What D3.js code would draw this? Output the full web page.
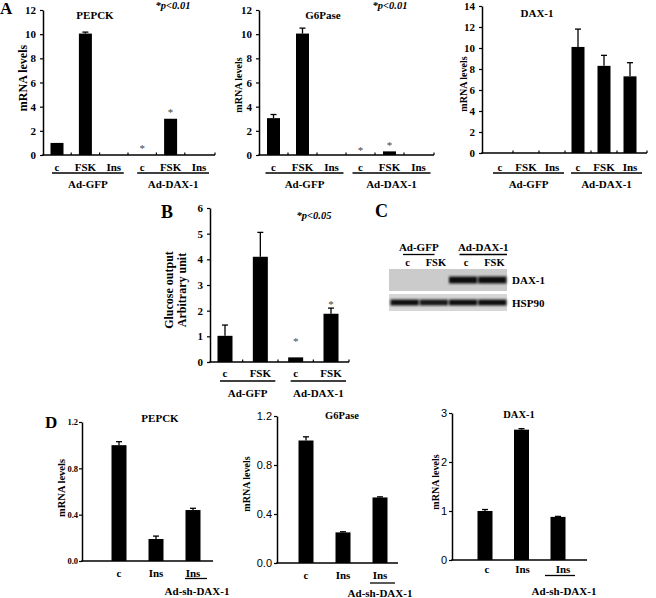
<!DOCTYPE html>
<html><head><meta charset="utf-8">
<script src="https://cdn.jsdelivr.net/npm/d3@7/dist/d3.min.js"></script>
<style>body{margin:0;background:#fff}svg{display:block}</style>
</head><body><svg id="c" width="656" height="598"></svg>
<script>
// ---------- DATA ----------
// Panel A
const aCats = ["c", "FSK", "Ins", "c", "FSK", "Ins"];
const aGroups = ["Ad-GFP", "Ad-DAX-1"];
const aGroupIdx = [[0, 1, 2], [3, 4, 5]];
const pepckA = [1.0, 10.05, 0, 0, 3.0, 0];
const pepckAErr = [0, 0.12, 0, 0, 0, 0];
const pepckAStar = [null, null, null, 0.9, 3.9, null];
const g6paseA = [3.05, 10.05, 0, 0, 0.3, 0];
const g6paseAErr = [0.3, 0.45, 0, 0, 0, 0];
const g6paseAStar = [null, null, null, 0.75, 1.15, null];
const daxA = [0, 0, 0, 10.1, 8.3, 7.3];
const daxAErr = [0, 0, 0, 1.7, 1.0, 1.3];
const aTicks12 = [0, 2, 4, 6, 8, 10, 12];
const aTicks14 = [0, 2, 4, 6, 8, 10, 12, 14];
// Panel B
const bCats = ["c", "FSK", "c", "FSK"];
const bGroups = ["Ad-GFP", "Ad-DAX-1"];
const bGroupIdx = [[0, 1], [2, 3]];
const glucoseB = [1.02, 4.1, 0.18, 1.88];
const glucoseBErr = [0.42, 0.95, 0, 0.22];
const glucoseBStar = [null, null, 0.97, 2.41];
const bTicks = [0, 1, 2, 3, 4, 5, 6];
// Panel C (western blot)
const cLanes = ["c", "FSK", "c", "FSK"];
const cGroups = ["Ad-GFP", "Ad-DAX-1"];
const cRows = ["DAX-1", "HSP90"];
const cDax1Band = [0, 0, 1, 1];
const cHsp90Band = [1, 0.95, 1, 1];
// Panel D
const dCats = ["c", "Ins", "Ins"];
const dGroup = "Ad-sh-DAX-1";
const pepckD = [1.0, 0.19, 0.44];
const pepckDErr = [0.03, 0.025, 0.015];
const g6paseD = [1.0, 0.25, 0.535];
const g6paseDErr = [0.03, 0.005, 0.005];
const daxD = [1.0, 2.66, 0.88];
const daxDErr = [0.03, 0.02, 0.01];
const dTicks12 = [0, 0.4, 0.8, 1.2];
const dTicks3 = [0, 1, 2, 3];

// ---------- DRAWING ----------
const SERIF = "'Liberation Serif','Times New Roman',serif";
const SANS = "'Liberation Sans',Arial,sans-serif";
const svg = d3.select("#c");

function txt(s, x, y, opt = {}) {
  const t = svg.append("text").attr("x", x).attr("y", y).text(s)
    .attr("font-family", opt.family || SERIF)
    .attr("font-size", opt.size || 11)
    .attr("font-weight", opt.weight || "bold")
    .attr("font-style", opt.style || "normal")
    .attr("text-anchor", opt.anchor || "middle")
    .attr("fill", opt.fill || "#000");
  return t;
}
function vtxt(s, x, y, size) {
  svg.append("text").attr("transform", `translate(${x},${y}) rotate(-90)`)
    .attr("text-anchor", "middle").attr("dy", "0.35em")
    .attr("font-family", SERIF).attr("font-weight", "bold").attr("font-size", size)
    .text(s);
}

function barChart(c) {
  const x = d3.scalePoint().domain(d3.range(c.cats.length)).range(c.pts);
  const y = d3.scaleLinear().domain([0, c.max]).range([c.y0, c.yTop]);
  const g = svg.append("g");
  // bars
  g.selectAll("rect.bar").data(c.vals).join("rect")
    .attr("x", (d, i) => x(i) - c.barW / 2).attr("y", d => y(d))
    .attr("width", c.barW).attr("height", d => c.y0 - y(d)).attr("fill", "#000");
  // error bars
  c.vals.forEach((v, i) => {
    const e = c.errs ? c.errs[i] : 0;
    if (!e) return;
    g.append("line").attr("x1", x(i)).attr("x2", x(i)).attr("y1", y(v)).attr("y2", y(v + e))
      .attr("stroke", "#000").attr("stroke-width", 1.3);
    g.append("line").attr("x1", x(i) - 3).attr("x2", x(i) + 3).attr("y1", y(v + e)).attr("y2", y(v + e))
      .attr("stroke", "#000").attr("stroke-width", 1.3);
  });
  // stars
  if (c.stars) c.stars.forEach((s, i) => {
    if (s == null) return;
    g.append("text").attr("x", x(i)).attr("y", y(s)).attr("dy", "0.7em")
      .attr("text-anchor", "middle").attr("font-family", SERIF).attr("font-size", 11)
      .attr("fill", "#444").text("*");
  });
  // y axis
  const ax = g.append("g").attr("transform", `translate(${c.axisX},0)`)
    .call(d3.axisLeft(y).tickValues(c.ticks).tickFormat(c.fmt || (d => d))
      .tickSize(3).tickSizeOuter(0).tickPadding(c.pad != null ? c.pad : 4));
  ax.select(".domain").attr("stroke", "#000").attr("stroke-width", 1.5);
  ax.selectAll(".tick line").attr("stroke", "#000").attr("stroke-width", 1.2);
  ax.selectAll(".tick text").attr("font-family", c.tickFamily || SERIF)
    .attr("font-weight", c.tickWeight || "bold").attr("font-size", c.tickFont || 11).attr("fill", "#000");
  // x axis
  g.append("line").attr("x1", c.axisX - 0.75).attr("x2", c.axisEnd).attr("y1", c.y0).attr("y2", c.y0)
    .attr("stroke", "#000").attr("stroke-width", 1.5);
  if (c.xTicks) {
    const st = x.step();
    const bounds = d3.range(c.cats.length - 1).map(i => x(i) + st / 2);
    bounds.push(c.axisEnd);
    bounds.forEach(b => g.append("line").attr("x1", b).attr("x2", b).attr("y1", c.y0).attr("y2", c.y0 - 2.5)
      .attr("stroke", "#000").attr("stroke-width", 1.2));
  }
  // category labels
  c.cats.forEach((s, i) => txt(s, x(i) + (c.catDx ? c.catDx[i] : 0), c.catY, { size: c.catSize || 11 }));
  // groups
  if (c.groups) c.groups.forEach((gname, k) => {
    const idx = c.groupIdx[k];
    const xa = x(idx[0]) + c.ul[0], xb = x(idx[idx.length - 1]) + c.ul[1];
    g.append("line").attr("x1", xa).attr("x2", xb).attr("y1", c.ulY).attr("y2", c.ulY)
      .attr("stroke", "#000").attr("stroke-width", 1.3);
    txt(gname, (xa + xb) / 2, c.grpY, { size: 11 });
  });
  return { x, y };
}

// ---- Panel A ----
txt("A", 0, 14, { size: 17, anchor: "start" });
barChart({ cats: aCats, vals: pepckA, errs: pepckAErr, stars: pepckAStar, max: 12, ticks: aTicks12,
  axisX: 43, axisEnd: 215, y0: 155, yTop: 10, pts: [57, 199], barW: 13, xTicks: true,
  catY: 171, groups: aGroups, groupIdx: aGroupIdx, ul: [-5, 10], ulY: 173, grpY: 188 });
txt("PEPCK", 95, 19, { size: 11 });
txt("*p<0.01", 173, 9, { size: 10.5, style: "italic" });
vtxt("mRNA levels", 23, 78, 12);

barChart({ cats: aCats, vals: g6paseA, errs: g6paseAErr, stars: g6paseAStar, max: 12, ticks: aTicks12,
  axisX: 259, axisEnd: 434, y0: 155, yTop: 10, pts: [273.5, 418.5], barW: 13, xTicks: true,
  catY: 171, groups: aGroups, groupIdx: aGroupIdx, ul: [-8, 12], ulY: 173, grpY: 188 });
txt("G6Pase", 323, 19, { size: 11 });
txt("*p<0.01", 390, 9, { size: 10.5, style: "italic" });
vtxt("mRNA levels", 238, 85, 10);

barChart({ cats: aCats, vals: daxA, errs: daxAErr, max: 14, ticks: aTicks14,
  axisX: 482, axisEnd: 647, y0: 153, yTop: 6, pts: [500, 630], barW: 13, xTicks: true,
  catY: 171, groups: aGroups, groupIdx: aGroupIdx, ul: [-7, 12], ulY: 173, grpY: 188 });
txt("DAX-1", 537, 17, { size: 11 });
vtxt("mRNA levels", 463, 84, 10);

// ---- Panel B ----
txt("B", 161, 218, { size: 18, anchor: "start" });
barChart({ cats: bCats, vals: glucoseB, errs: glucoseBErr, stars: glucoseBStar, max: 6, ticks: bTicks,
  axisX: 210, axisEnd: 349, y0: 362, yTop: 208, pts: [225, 331], barW: 15, xTicks: true,
  catY: 377, groups: bGroups, groupIdx: bGroupIdx, ul: [-5, 15], ulY: 381, grpY: 397 });
txt("*p<0.05", 314, 219, { size: 10.5, style: "italic" });
vtxt("Glucose output", 169, 290, 12);
vtxt("Arbitrary unit", 182, 290, 12);

// ---- Panel C (blot) ----
txt("C", 375, 217, { size: 18, anchor: "start" });
const defs = svg.append("defs");
defs.append("filter").attr("id", "blur").attr("x", "-20%").attr("y", "-50%").attr("width", "140%").attr("height", "200%")
  .append("feGaussianBlur").attr("stdDeviation", "1.3 0.9");
const lx = d3.scaleBand().domain(d3.range(cLanes.length)).range([390, 507]);
const rowBoxes = [{ y: 269, h: 22, bg: "#cbcbcb", band: cDax1Band, by: 276.5, bh: 7 },
                  { y: 294, h: 17, bg: "#d6d6d6", band: cHsp90Band, by: 299.5, bh: 6 }];
rowBoxes.forEach((r, k) => {
  svg.append("rect").attr("x", 389).attr("y", r.y).attr("width", 118).attr("height", r.h).attr("fill", r.bg);
  svg.append("g").attr("filter", "url(#blur)").selectAll("rect").data(r.band).join("rect")
    .attr("x", (d, i) => lx(i) + 0.5).attr("y", r.by).attr("width", lx.bandwidth() - 1).attr("height", r.bh)
    .attr("fill", "#111").attr("opacity", d => d);
  txt(cRows[k], 512, r.y + r.h / 2 + 4, { size: 11, anchor: "start" });
});
cLanes.forEach((s, i) => txt(s, lx(i) + lx.bandwidth() / 2 + (i % 2 ? 2 : 3), 266, { size: 10.5 }));
[[0, 1], [2, 3]].forEach((pair, k) => {
  const xa = lx(pair[0]) + (k ? 11 : 13), xb = lx(pair[1]) + lx.bandwidth() - (k ? 0 : 14);
  svg.append("line").attr("x1", xa).attr("x2", xb).attr("y1", 254.5).attr("y2", 254.5).attr("stroke", "#000").attr("stroke-width", 1.3);
  txt(cGroups[k], (xa + xb) / 2, 251, { size: 11 });
});

// ---- Panel D ----
txt("D", 45, 428, { size: 17, anchor: "start" });
barChart({ cats: dCats, vals: pepckD, errs: pepckDErr, max: 1.2, ticks: dTicks12, fmt: d3.format(".1f"),
  axisX: 82, axisEnd: 213, y0: 561, yTop: 422, pts: [119, 193], barW: 15, tickFont: 8.5, pad: 1,
  catY: 577 });
svg.append("line").attr("x1", 185).attr("x2", 207).attr("y1", 578.5).attr("y2", 578.5).attr("stroke", "#000").attr("stroke-width", 1.3);
txt(dGroup, 197, 595, { size: 11 });
txt("PEPCK", 160, 422, { size: 11 });
vtxt("mRNA levels", 61, 488, 10.5);

barChart({ cats: dCats, vals: g6paseD, errs: g6paseDErr, max: 1.2, ticks: dTicks12, fmt: d3.format(".1f"),
  axisX: 277, axisEnd: 398, y0: 563, yTop: 416, pts: [306, 380], barW: 15,
  tickFamily: SANS, tickWeight: "normal", tickFont: 11, pad: 2, catY: 579 });
svg.append("line").attr("x1", 370).attr("x2", 395).attr("y1", 583).attr("y2", 583).attr("stroke", "#000").attr("stroke-width", 1.3);
txt(dGroup, 380, 597, { size: 11 });
txt("G6Pase", 342, 419, { size: 10.5 });
vtxt("mRNA levels", 246, 484, 10);

barChart({ cats: dCats, vals: daxD, errs: daxDErr, max: 3, ticks: dTicks3,
  axisX: 452, axisEnd: 587, y0: 560, yTop: 413, pts: [485, 558], barW: 15, catDx: [2, 1, 5],
  tickFamily: SANS, tickWeight: "normal", tickFont: 11, pad: 2, catY: 573 });
svg.append("line").attr("x1", 545).attr("x2", 575).attr("y1", 575.5).attr("y2", 575.5).attr("stroke", "#000").attr("stroke-width", 1.3);
txt(dGroup, 564, 595, { size: 11 });
txt("DAX-1", 519, 418, { size: 10.5 });
vtxt("mRNA levels", 435, 482, 10);
</script></body></html>
